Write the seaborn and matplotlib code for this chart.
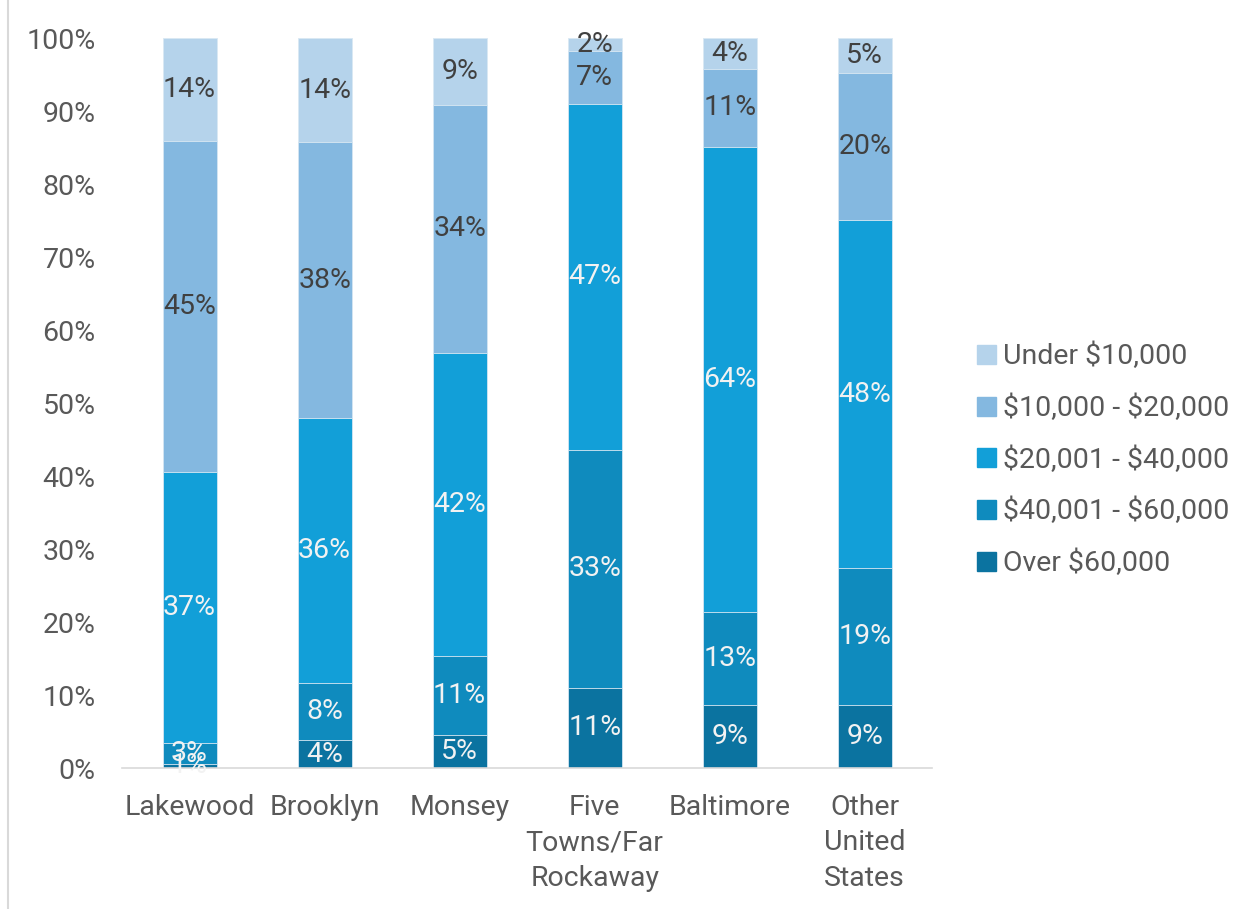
import matplotlib
matplotlib.use("Agg")
import matplotlib.pyplot as plt
import matplotlib.patches as mpatches
import seaborn as sns
import pandas as pd
import numpy as np

# Household income distribution by community (percent of households)
communities = ["Lakewood", "Brooklyn", "Monsey", "Five\nTowns/Far\nRockaway",
               "Baltimore", "Other\nUnited\nStates"]
income_groups = ["Over \\$60,000", "\\$40,001 - \\$60,000", "\\$20,001 - \\$40,000",
                 "\\$10,000 - \\$20,000", "Under \\$10,000"]

over_60k = [0.6, 3.8, 4.6, 11.0, 8.6, 8.6]
from_40k_to_60k = [2.9, 7.8, 10.8, 32.6, 12.8, 18.8]
from_20k_to_40k = [37.0, 36.3, 41.5, 47.4, 63.7, 47.7]
from_10k_to_20k = [45.4, 37.9, 34.0, 7.2, 10.7, 20.1]
under_10k = [14.1, 14.2, 9.1, 1.8, 4.2, 4.8]

series = [over_60k, from_40k_to_60k, from_20k_to_40k, from_10k_to_20k, under_10k]
colors = ["#0B73A0", "#0F8BBE", "#129FD8", "#84B8E0", "#B5D3EB"]
label_colors = ["#F2F2F2", "#F2F2F2", "#F2F2F2", "#404040", "#404040"]

sns.set_theme(style="white")
plt.rcParams["font.family"] = ["Roboto", "DejaVu Sans"]

FS = 20.5

fig = plt.figure(figsize=(12.53, 9.09), dpi=100)
ax = fig.add_axes([0.0974, 0.155, 0.6466, 0.803])

values = np.array(series)
tops = np.cumsum(values, axis=0)
bottoms = tops - values

# Draw stacks from the top layer down so each lower layer covers the one above
for i in range(len(series) - 1, -1, -1):
    df = pd.DataFrame({"community": communities, "top": tops[i]})
    sns.barplot(data=df, x="community", y="top", color=colors[i], width=0.4,
                saturation=1, edgecolor="#D9E8F3", linewidth=0.6, ax=ax)

# Segment value labels
for i, vals in enumerate(series):
    for j, v in enumerate(vals):
        yc = bottoms[i][j] + v / 2
        ax.text(j, yc, f"{v:.0f}%", ha="center", va="center",
                fontsize=FS, color=label_colors[i])

ax.set_ylim(0, 100)
ax.set_xlim(-0.5, 5.5)
ax.set_yticks(np.arange(0, 101, 10))
ax.set_yticklabels([f"{t}%" for t in range(0, 101, 10)])
ax.set_xlabel("")
ax.set_ylabel("")
ax.tick_params(axis="y", length=0, pad=19, labelsize=FS, labelcolor="#595959")
ax.tick_params(axis="x", length=0, pad=18.5, labelsize=FS, labelcolor="#595959")
for lbl in ax.get_xticklabels():
    lbl.set_linespacing(1.41)
    lbl.set_va("top")

for side in ["top", "right", "left"]:
    ax.spines[side].set_visible(False)
ax.spines["bottom"].set_color("#D9D9D9")
ax.spines["bottom"].set_linewidth(1.2)
ax.grid(False)

# Legend, top entry first
handles = [mpatches.Patch(color=colors[i], label=income_groups[i])
           for i in range(len(series) - 1, -1, -1)]
leg = fig.legend(handles=handles, loc="center left",
                 bbox_to_anchor=(0.780, 0.494), frameon=False,
                 fontsize=FS, handlelength=0.65, handleheight=0.65,
                 handletextpad=0.25, labelspacing=0.85, labelcolor="#595959",
                 borderpad=0, borderaxespad=0)

# Thin frame line along the left edge
fig.add_artist(plt.Line2D([0.006, 0.006], [0, 1], color="#D9D9D9", lw=1.5,
                          transform=fig.transFigure))

fig.savefig("out.png", dpi=100)
